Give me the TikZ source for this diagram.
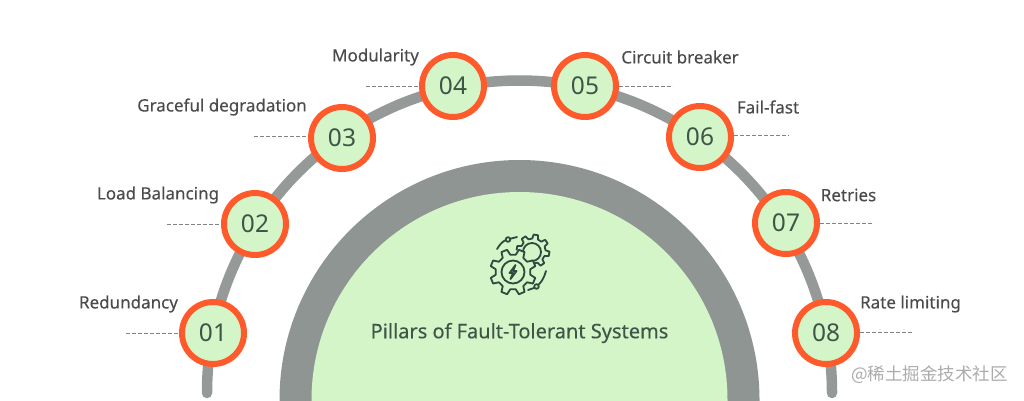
\documentclass[tikz,border=0pt]{standalone}
\usepackage{fontspec}
\setmainfont{Noto Sans}
\newfontfamily\medfont[FakeBold=0.25]{Noto Sans}
\newfontfamily\cjkfont{Noto Sans CJK SC}
\definecolor{arcgray}{HTML}{959A98}
\definecolor{discgray}{HTML}{8F9593}
\definecolor{palegreen}{HTML}{D4F5C8}
\definecolor{ringorange}{HTML}{FF5A2C}
\definecolor{labeltext}{HTML}{4B4B4B}
\definecolor{numtext}{HTML}{3F5548}
\definecolor{icondark}{HTML}{2C4A3E}
\newcommand{\gearoutline}[4]{%
  \foreach \gi in {1,...,#1}{
    ({(\gi-1)*360/#1+#4-0.30*360/#1}:#2) -- ({(\gi-1)*360/#1+#4-0.17*360/#1}:#3) -- ({(\gi-1)*360/#1+#4+0.17*360/#1}:#3) -- ({(\gi-1)*360/#1+#4+0.30*360/#1}:#2) -- ({\gi*360/#1+#4-0.30*360/#1}:#2)
  }}
\tikzset{
  x=1pt,y=-1pt,
  pillar/.style={circle,draw=ringorange,fill=palegreen,line width=6pt,minimum size=62pt,inner sep=0pt,text=numtext,font=\fontsize{24.5}{24.5}\selectfont},
  pillarlabel/.style={anchor=center,text=labeltext,font=\medfont\fontsize{17}{20}\selectfont,inner sep=0pt},
  leader/.style={draw=arcgray!85!black,line width=0.9pt,dash pattern=on 4.4pt off 1.6pt},
  iconline/.style={draw=icondark,line width=1.8pt,line join=round,line cap=round},
}
\begin{document}
\begin{tikzpicture}
\useasboundingbox (0,0) rectangle (1024,400);
\clip (0,0) rectangle (1024,400);
% outer arc
\draw[arcgray,line width=10.5pt,line cap=round] (207,393) arc[start angle=180,end angle=360,radius=312.5];
% discs
\fill[discgray] (519.5,400) circle[radius=240];
\fill[palegreen] (519.5,400) circle[radius=208];
% free ends
\coordinate (e1) at (126,333);
\coordinate (e2) at (167,224);
\coordinate (e3) at (254,136);
\coordinate (e4) at (366,86);
\coordinate (e5) at (673,86);
\coordinate (e6) at (789,135);
\coordinate (e7) at (874,223);
\coordinate (e8) at (914,332);
% nodes
\node[pillar] (p1) at (213,333) {01};
\node[pillar] (p2) at (255,224) {02};
\node[pillar] (p3) at (342,138) {03};
\node[pillar] (p4) at (453,86) {04};
\node[pillar] (p5) at (585,86) {05};
\node[pillar] (p6) at (700,137) {06};
\node[pillar] (p7) at (786,223) {07};
\node[pillar] (p8) at (826,333) {08};
% connectors
\draw[leader] (e1) -- (p1.west|-e1);
\draw[leader] (e2) -- (p2.west|-e2);
\draw[leader] (e3) -- (p3.west|-e3);
\draw[leader] (e4) -- (p4.west|-e4);
\draw[leader] (p5.east|-e5) -- (e5);
\draw[leader] (p6.east|-e6) -- (e6);
\draw[leader] (p7.east|-e7) -- (e7);
\draw[leader] (p8.east|-e8) -- (e8);
% labels
\node[pillarlabel] (l1) at (128.5,304) {Redundancy};
\node[pillarlabel] (l2) at (158,195) {Load Balancing};
\node[pillarlabel] (l3) at (222,107) {Graceful degradation};
\node[pillarlabel] (l4) at (375.5,57) {Modularity};
\node[pillarlabel] (l5) at (680,57) {Circuit breaker};
\node[pillarlabel] (l6) at (768,107) {Fail-fast};
\node[pillarlabel] (l7) at (848.5,195) {Retries};
\node[pillarlabel] (l8) at (910.5,304) {Rate limiting};
\node[text=numtext,inner sep=0pt,font=\medfont\fontsize{20}{24}\selectfont] (title) at (519.5,333) {Pillars of Fault-Tolerant Systems};
% icon: small gear
\begin{scope}[shift={(533,251)}]
  \draw[iconline] \gearoutline{8}{12.5}{16.5}{10};
  \draw[iconline] (-1,1) circle[radius=9];
\end{scope}
% icon: big gear
\begin{scope}[shift={(513,272)}]
  \fill[palegreen] (0,0) circle[radius=22];
  \draw[iconline,fill=palegreen] \gearoutline{8}{17.5}{23}{22.5};
  \draw[iconline] (0,0) circle[radius=11.5];
  \draw[iconline] (2.5,-7) -- (-3.5,1) -- (0,1) -- (-2.5,7) -- (3.5,-1) -- (0,-1) -- cycle;
\end{scope}
% icon: small arcs with dots
\draw[iconline] (497,249) .. controls (500,244) and (503,241) .. (506,240);
\draw[iconline,fill=palegreen] (508,239.5) circle[radius=2.3];
\draw[iconline] (511,238.5) -- (517,237);
\draw[iconline] (546,271) .. controls (544,278) and (541,283) .. (538,285);
\draw[iconline,fill=palegreen] (536.5,286.5) circle[radius=2.3];
\draw[iconline] (534,288) -- (528,290);
% watermark
\node[text=black!33,inner sep=0pt,font=\cjkfont\fontsize{17.5}{20}\selectfont] (mark) at (929.5,375) {@稀土掘金技术社区};
\end{tikzpicture}
\end{document}
